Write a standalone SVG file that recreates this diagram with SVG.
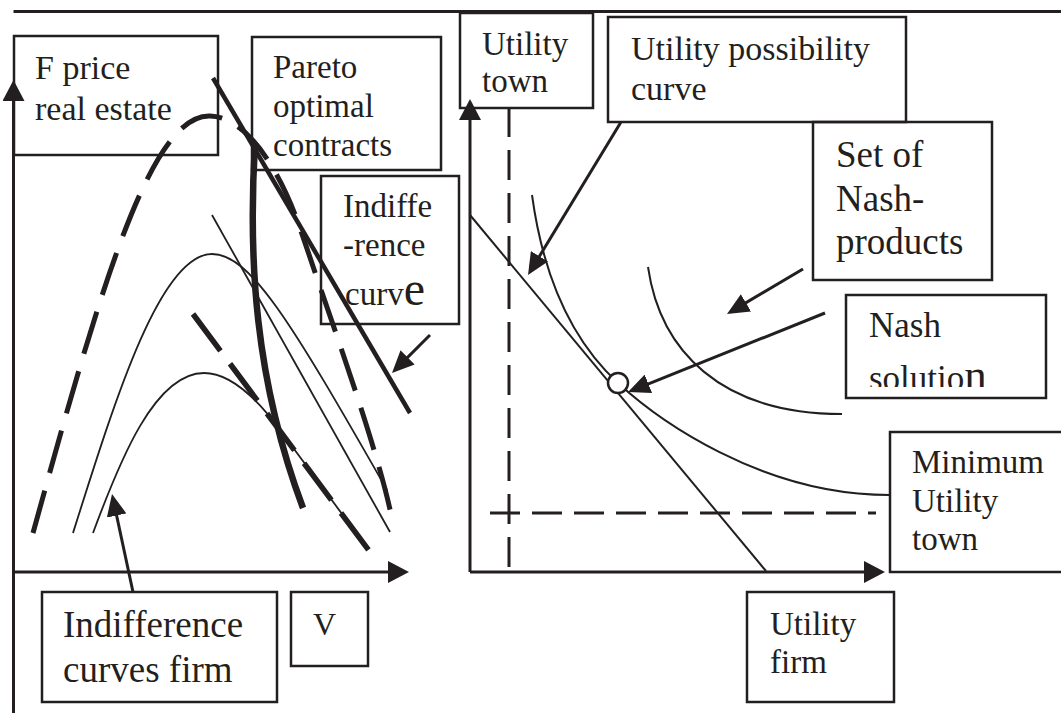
<svg xmlns="http://www.w3.org/2000/svg" width="1061" height="715" viewBox="0 0 1061 715">
<style>
.box{fill:none;stroke:#231f20;stroke-width:2.5}
.t{font-family:"Liberation Serif","Times New Roman",serif;fill:#231f20}
.ax{fill:none;stroke:#231f20;stroke-width:3}
.con{fill:none;stroke:#231f20;stroke-width:3}
.thin{fill:none;stroke:#231f20;stroke-width:1.8}
.dash{fill:none;stroke:#231f20;stroke-width:5;stroke-dasharray:44 18}
.mdash{fill:none;stroke:#231f20;stroke-width:3}
</style>
<defs>
<marker id="ah" viewBox="0 -10 22 20" refX="12" refY="0" markerWidth="22" markerHeight="20" markerUnits="userSpaceOnUse" orient="auto">
<path d="M0,-10 L22,0 L0,10 z" fill="#231f20"/>
</marker>
<marker id="axh" viewBox="0 -11 21 22" refX="11" refY="0" markerWidth="21" markerHeight="22" markerUnits="userSpaceOnUse" orient="auto">
<path d="M0,-11 L21,0 L0,11 z" fill="#231f20"/>
</marker>
<clipPath id="clipSol"><rect x="846" y="295" width="200" height="92"/></clipPath>
</defs>
<rect width="1061" height="715" fill="#fff"/>

<g id="frame">
<path class="ax" d="M13.5,11.5 L1061,11.5"/>
</g>

<g id="left-axes">
<path class="ax" d="M13.5,713 L13.5,90" marker-end="url(#axh)"/>
<path class="ax" d="M13.5,572 L399,572" marker-end="url(#axh)"/>
</g>

<g id="left-curves">
<path class="dash" d="M33,533 C100,290 150,114 210,116 C245,117 278,165 300,228 C330,318 375,440 391,514"/>
<path fill="none" stroke="#231f20" stroke-width="4.5" d="M213,78 L410,413"/>
<path fill="none" stroke="#231f20" stroke-width="6.5" d="M255,143 C248,260 255,380 303,508"/>
<path class="thin" d="M212,215 L390,532"/>
<path class="thin" d="M73,533 C115,400 160,254 212,254 C250,254 290,320 387,490"/>
<path class="thin" d="M93,533 C120,460 155,373 204,373 C232,373 258,400 280,430 L362,541"/>
<path fill="none" stroke="#231f20" stroke-width="5.5" stroke-dasharray="46 16" d="M193,314 L370,552"/>
</g>

<g id="right-axes">
<path class="ax" d="M470,572 L470,109" marker-end="url(#axh)"/>
<path class="ax" d="M470,572 L875,572" marker-end="url(#axh)"/>
</g>

<g id="right-curves">
<path class="mdash" stroke-dasharray="30 13" d="M509,107 L509,572"/>
<path class="mdash" stroke-dasharray="30 12" d="M490,513 L876,513"/>
<path fill="none" stroke="#231f20" stroke-width="2" d="M470,215 L766,571"/>
<path fill="none" stroke="#231f20" stroke-width="2" d="M532,195 C545,290 580,348 618,383 C656,418 760,495 890,495"/>
<path fill="none" stroke="#231f20" stroke-width="2" d="M648,267 C660,350 720,414 842,414"/>
</g>

<g id="node-nash-point">
<circle cx="618" cy="383" r="10" fill="#fff" stroke="#231f20" stroke-width="2.5"/>
</g>

<g id="connectors">
<path class="con" d="M430,335 L399.1,365.9" marker-end="url(#ah)"/>
<path class="con" d="M133,592 L114.1,503.8" marker-end="url(#ah)"/>
<path class="con" d="M621,122 L533.2,266.5" marker-end="url(#ah)"/>
<path class="con" d="M803,269 L735.6,308.9" marker-end="url(#ah)"/>
<path class="con" d="M825,313 L637.3,388.3" marker-end="url(#ah)"/>
</g>

<g id="node-fprice">
<rect class="box" x="14" y="36" width="204" height="119"/>
<text class="t" font-size="34"><tspan x="35" y="79">F price</tspan><tspan x="35" y="120">real estate</tspan></text>
</g>

<g id="node-pareto">
<rect class="box" x="252" y="37" width="189" height="133"/>
<text class="t" font-size="33"><tspan x="273" y="78">Pareto</tspan><tspan x="273" y="117">optimal</tspan><tspan x="273" y="156">contracts</tspan></text>
</g>

<g id="node-indiff-curve">
<rect class="box" x="321" y="176" width="138" height="148"/>
<text class="t" font-size="33"><tspan x="343" y="217">Indiffe</tspan><tspan x="343" y="256">-rence</tspan><tspan x="345" y="305">curv</tspan><tspan font-size="48">e</tspan></text>
</g>

<g id="node-indiff-firm">
<rect class="box" x="42" y="592" width="235" height="110"/>
<text class="t" font-size="37"><tspan x="63" y="637">Indifference</tspan><tspan x="63" y="682">curves firm</tspan></text>
</g>

<g id="node-v">
<rect class="box" x="291" y="592" width="77" height="74"/>
<text class="t" font-size="32" x="313" y="635">V</text>
</g>

<g id="node-utility-town">
<rect class="box" x="460" y="13" width="133" height="95"/>
<text class="t" font-size="33"><tspan x="482" y="55">Utility</tspan><tspan x="482" y="92">town</tspan></text>
</g>

<g id="node-upc">
<rect class="box" x="608" y="17" width="298" height="105"/>
<text class="t" font-size="34"><tspan x="631" y="60">Utility possibility</tspan><tspan x="631" y="100">curve</tspan></text>
</g>

<g id="node-nash-products">
<rect class="box" x="813" y="122" width="179" height="158"/>
<text class="t" font-size="37"><tspan x="836" y="167">Set of</tspan><tspan x="836" y="211">Nash-</tspan><tspan x="836" y="254">products</tspan></text>
</g>

<g id="node-nash-solution">
<rect class="box" x="846" y="295" width="200" height="103"/>
<text class="t" font-size="35" x="869" y="337">Nash</text>
<text class="t" font-size="35" clip-path="url(#clipSol)"><tspan x="869" y="390">solutio</tspan><tspan font-size="45">n</tspan></text>
</g>

<g id="node-minimum">
<rect class="box" x="890" y="432" width="200" height="140"/>
<text class="t" font-size="33"><tspan x="912" y="473">Minimum</tspan><tspan x="912" y="512">Utility</tspan><tspan x="912" y="550">town</tspan></text>
</g>

<g id="node-utility-firm">
<rect class="box" x="747" y="592" width="147" height="110"/>
<text class="t" font-size="33"><tspan x="770" y="635">Utility</tspan><tspan x="770" y="673">firm</tspan></text>
</g>
</svg>
